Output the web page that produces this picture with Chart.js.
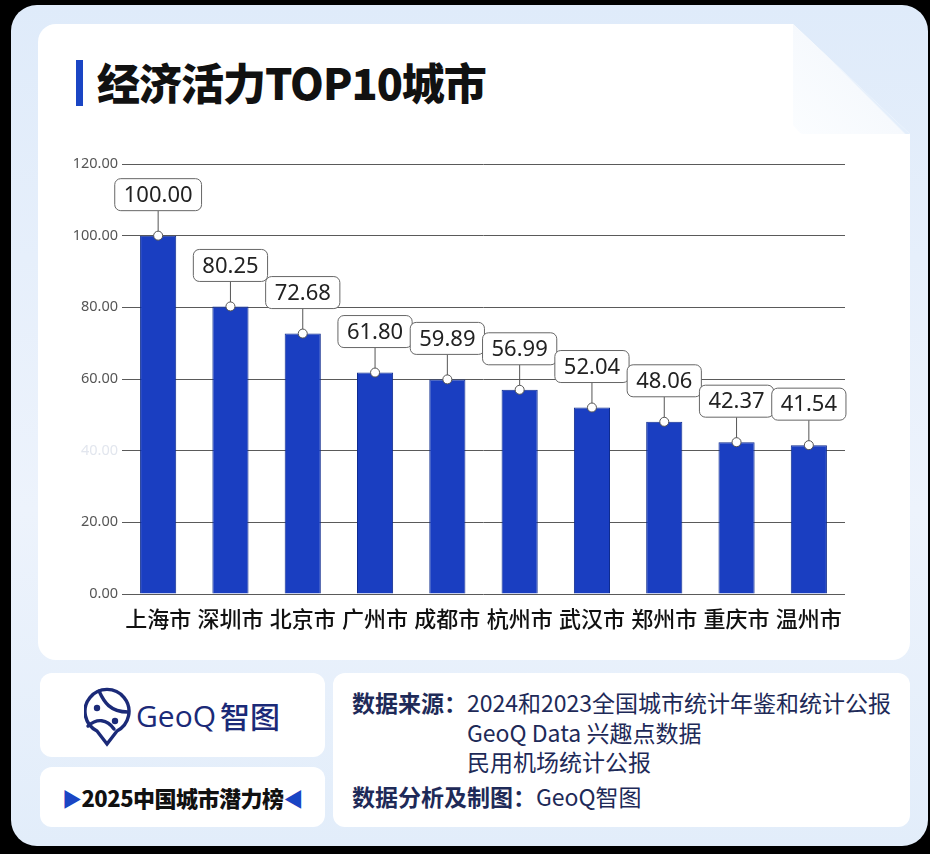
<!DOCTYPE html>
<html>
<head>
<meta charset="utf-8">
<script src="https://cdn.jsdelivr.net/npm/chart.js@4.4.1/dist/chart.umd.min.js"></script>
<style>
  html, body { margin: 0; padding: 0; background: #000; }
  body { width: 930px; height: 854px; position: relative; overflow: hidden; font-family: "Noto Sans CJK SC", "Noto Sans", sans-serif; }
  .card { position: absolute; left: 11px; top: 5px; width: 917px; height: 841px; border-radius: 26px;
          background: linear-gradient(180deg, #dfebfa 0%, #edf3fc 60%, #e2edfa 100%); }
  .panel { position: absolute; left: 38px; top: 24px; width: 872px; height: 636px; background: #fff; border-radius: 18px;
           clip-path: polygon(0 0, 755px 0, 872px 110px, 872px 100%, 0 100%); }
  .fold { position: absolute; left: 793px; top: 24px; width: 117px; height: 110px; background: linear-gradient(225deg, #e3eefb 50%, #f6f9fd 51%, #fbfdff 100%);
          clip-path: polygon(0 0, 100% 100%, 8px 100%, 0 92%); border-radius: 0 0 0 10px; }
  .title-bar { position: absolute; left: 76px; top: 60px; width: 7px; height: 46px; background: #1a45c4; }
  .title { position: absolute; left: 97px; top: 53px; font-size: 43px; font-weight: 900; color: #111; letter-spacing: -1px; line-height: 56px; }
  .box { position: absolute; background: #fff; border-radius: 12px; }
  .logo { position: absolute; left: 84px; top: 686px; }
  .rank { position: absolute; left: 40px; top: 767px; width: 285px; height: 60px; text-align: center; line-height: 60px;
          font-size: 22px; font-weight: 900; color: #111; letter-spacing: -0.5px; }
  .rank .tri { color: #1a45c4; font-size: 20px; }
  .src { position: absolute; left: 352px; font-size: 23px; color: #1e2a58; line-height: 29px; white-space: nowrap; }
  .src b { font-weight: 700; color: #1e2a58; }
  #wrap { position: absolute; left: 50px; top: 140px; width: 800px; height: 510px; }
</style>
</head>
<body>
<div class="card"></div>
<div class="panel"></div>
<div class="fold"></div>
<div class="title-bar"></div>
<div class="title">经济活力TOP10城市</div>
<div id="wrap"><canvas id="chart"></canvas></div>

<div class="box" style="left:40px;top:673px;width:285px;height:84px;"></div>
<div class="box" style="left:40px;top:767px;width:285px;height:60px;"></div>
<div class="box" style="left:333px;top:673px;width:577px;height:154px;"></div>

<svg class="logo" width="200" height="64" viewBox="0 0 200 64">
  <g fill="none" stroke="#1b2a78" stroke-width="3.4" stroke-linecap="round">
    <path d="M23 58 L13 45 A22 22 0 1 1 33 45 Z" />
    <path d="M15 5 C20 16 26 26 44 26" />
    <path d="M4 40 C13 32 23 33 30 43" />
  </g>
  <circle cx="13" cy="22" r="3.2" fill="#1b2a78"/>
  <circle cx="31" cy="35" r="3.2" fill="#1b2a78"/>
  <text x="52" y="41" font-family="Open Sans, Noto Sans" font-size="30" fill="#1b2a78" font-weight="500">GeoQ</text>
  <text x="136" y="42" font-family="Noto Sans CJK SC" font-size="30" fill="#1b2a78" font-weight="500">智图</text>
</svg>

<div class="rank"><span class="tri">▶</span>2025中国城市潜力榜<span class="tri">◀</span></div>

<div class="src" style="top:688px;"><b>数据来源：</b>2024和2023全国城市统计年鉴和统计公报</div>
<div class="src" style="top:718px;left:467px;">GeoQ Data 兴趣点数据</div>
<div class="src" style="top:747px;left:467px;">民用机场统计公报</div>
<div class="src" style="top:782px;"><b>数据分析及制图：</b>GeoQ智图</div>

<script>
// 经济活力 TOP10 城市得分
const cities = ['上海市', '深圳市', '北京市', '广州市', '成都市', '杭州市', '武汉市', '郑州市', '重庆市', '温州市'];
const scores = [100.00, 80.25, 72.68, 61.80, 59.89, 56.99, 52.04, 48.06, 42.37, 41.54];
const yTicks = [0, 20, 40, 60, 80, 100, 120];

/* value callouts: dot on the bar top, leader line, rounded label box */
const callouts = {
  id: 'callouts',
  afterDatasetsDraw(chart) {
    const ctx = chart.ctx;
    const meta = chart.getDatasetMeta(0);
    ctx.save();
    ctx.font = '22px "Noto Sans", sans-serif';
    meta.data.forEach((bar, i) => {
      const x = bar.x, y = bar.y;
      const txt = scores[i].toFixed(2);
      const w = ctx.measureText(txt).width + 18, h = 32;
      const bottom = y - 25;
      ctx.strokeStyle = '#555';
      ctx.lineWidth = 1;
      ctx.beginPath(); ctx.moveTo(x, y); ctx.lineTo(x, bottom); ctx.stroke();
      ctx.beginPath();
      ctx.roundRect(x - w / 2, bottom - h, w, h, 6);
      ctx.fillStyle = '#fff'; ctx.fill();
      ctx.strokeStyle = '#666'; ctx.stroke();
      ctx.fillStyle = '#222';
      ctx.textAlign = 'center'; ctx.textBaseline = 'middle';
      ctx.fillText(txt, x, bottom - h / 2 + 1);
      ctx.beginPath(); ctx.arc(x, y, 4.5, 0, Math.PI * 2);
      ctx.fillStyle = '#fff'; ctx.fill();
      ctx.strokeStyle = '#555'; ctx.stroke();
    });
    ctx.restore();
  }
};

new Chart(document.getElementById('chart'), {
  type: 'bar',
  data: {
    labels: cities,
    datasets: [{ data: scores, backgroundColor: '#1a3ec1', borderColor: '#0f2c8e', borderWidth: 1,
                 barPercentage: 0.5, categoryPercentage: 1.0 }]
  },
  options: {
    responsive: true,
    maintainAspectRatio: false,
    animation: false,
    layout: { padding: { top: 24, right: 5, left: 0, bottom: 0 } },
    plugins: { legend: { display: false }, tooltip: { enabled: false } },
    scales: {
      x: {
        grid: { display: false },
        border: { display: false },
        ticks: { color: '#111', font: { size: 22, family: '"Noto Sans CJK SC"', weight: '500' }, padding: 3, maxRotation: 0 },
        afterFit(s) { s.height = 56; }
      },
      y: {
        min: 0, max: 120,
        afterBuildTicks(s) { s.ticks = yTicks.map(v => ({ value: v })); },
        ticks: {
          callback: v => Number(v).toFixed(2),
          color: c => (c.tick && c.tick.value === 40) ? '#e2e6ee' : '#555',
          font: { size: 14.5, family: '"Noto Sans"' },
          padding: 4
        },
        grid: { color: '#5a5a5a', drawTicks: false, lineWidth: 1 },
        border: { display: false },
        afterFit(s) { s.width = 72; }
      }
    }
  },
  plugins: [callouts]
});
</script>
</body>
</html>
